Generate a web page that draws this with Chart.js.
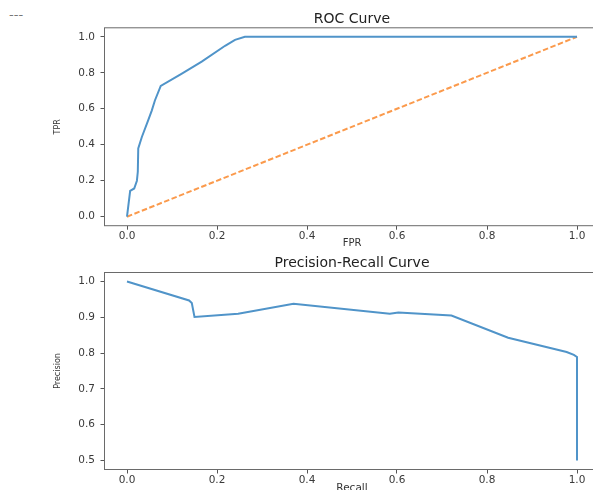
<!DOCTYPE html>
<html>
<head>
<meta charset="utf-8">
<script src="https://cdn.jsdelivr.net/npm/chart.js@4/dist/chart.umd.min.js"></script>
<style>
  html, body { margin: 0; padding: 0; background: #fff; overflow: hidden; width: 593px; height: 490px; }
  #dashes { position: absolute; left: 9px; top: 7px; font: 13px "DejaVu Sans", sans-serif; color: #777; }
  #rocBox { position: absolute; left: 0; top: 0; }
  #prBox { position: absolute; left: 0; top: 248px; }
</style>
</head>
<body>
<div id="dashes">---</div>
<div id="rocBox"><canvas id="rocChart" width="610" height="250"></canvas></div>
<div id="prBox"><canvas id="prChart" width="610" height="252"></canvas></div>
<script>
// ROC curve values
const rocFpr = [0, 0.007, 0.016, 0.022, 0.024, 0.025, 0.033, 0.047, 0.055, 0.062, 0.075, 0.121, 0.166, 0.218, 0.24, 0.262, 1.0];
const rocTpr = [0, 0.144, 0.157, 0.2, 0.25, 0.379, 0.443, 0.535, 0.59, 0.646, 0.727, 0.794, 0.862, 0.95, 0.983, 1.0, 1.0];
// chance diagonal
const chanceFpr = [0, 1];
const chanceTpr = [0, 1];
// precision-recall curve
const prRecall = [0, 0.138, 0.144, 0.15, 0.247, 0.37, 0.584, 0.603, 0.721, 0.847, 0.977, 0.993, 1.0, 1.0];
const prPrecision = [1.0, 0.947, 0.94, 0.901, 0.91, 0.938, 0.91, 0.913, 0.905, 0.843, 0.803, 0.795, 0.789, 0.5];
// tick labels
const rocXTicks = [0, 0.2, 0.4, 0.6, 0.8, 1.0];
const rocYTicks = [0, 0.2, 0.4, 0.6, 0.8, 1.0];
const prXTicks = [0, 0.2, 0.4, 0.6, 0.8, 1.0];
const prYTicks = [0.5, 0.6, 0.7, 0.8, 0.9, 1.0];

Chart.defaults.font.family = "'DejaVu Sans', sans-serif";
Chart.defaults.color = "#333";

const BLUE = "#5094c9";
const ORANGE = "#fb9a4c";

//matplotlib draws a box on all four sides of the axes
const framePlugin = {
  id: "frame",
  afterDraw(chart) {
    const { ctx, chartArea } = chart;
    ctx.save();
    ctx.strokeStyle = "#6a6a6a";
    ctx.lineWidth = 1;
    ctx.strokeRect(chartArea.left, chartArea.top, chartArea.right - chartArea.left, chartArea.bottom - chartArea.top);
    ctx.restore();
  },
};

function toPoints(xs, ys) {
  return xs.map((x, i) => ({ x: x, y: ys[i] }));
}

function makeAxis(opts) {
  return {
    type: "linear",
    min: opts.min,
    max: opts.max,
    border: { display: false },
    grid: { drawOnChartArea: false, drawTicks: true, tickLength: 4, color: "#555", tickWidth: 1 },
    ticks: {
      padding: opts.padding,
      font: { size: 10.5 },
      color: "#3a3a3a",
      callback: (v) => Number(v).toFixed(1),
    },
    afterBuildTicks: (scale) => {
      scale.ticks = opts.ticks.map((v) => ({ value: v }));
    },
    afterFit: opts.afterFit,
    title: opts.title,
  };
}

function makeChart(canvasId, cfg) {
  return new Chart(document.getElementById(canvasId), {
    type: "line",
    data: { datasets: cfg.datasets },
    options: {
      responsive: false,
      animation: false,
      layout: { padding: { left: 0, right: 10.5, top: 0, bottom: 0 } },
      elements: { point: { radius: 0 }, line: { tension: 0 } },
      plugins: {
        legend: { display: false },
        tooltip: { enabled: false },
        title: {
          display: true,
          fullSize: false, // center over the axes, like matplotlib
          text: cfg.title,
          color: "#222",
          font: { size: 14, weight: "normal" },
          padding: cfg.titlePadding,
        },
      },
      scales: {
        x: makeAxis({
          min: -0.05,
          max: 1.05,
          ticks: cfg.xTicks,
          padding: 0,
          afterFit: (s) => { s.height = cfg.xAxisHeight; },
          title: cfg.xTitle,
        }),
        y: makeAxis({
          min: cfg.yMin,
          max: cfg.yMax,
          ticks: cfg.yTicks,
          padding: 5.5,
          afterFit: (s) => { s.width = 104.5; },
          title: cfg.yTitle,
        }),
      },
    },
    plugins: [framePlugin],
  });
}

makeChart("rocChart", {
  title: "ROC Curve",
  titlePadding: { top: 11, bottom: 0 },
  xTicks: rocXTicks,
  yTicks: rocYTicks,
  yMin: -0.05,
  yMax: 1.05,
  xAxisHeight: 24.3,
  xTitle: { display: true, text: "FPR", color: "#333", font: { size: 10 }, padding: { top: 0, bottom: 1 } },
  yTitle: { display: true, text: "TPR", color: "#333", font: { size: 8 }, padding: { top: 53, bottom: 0 } },
  datasets: [
    {
      data: toPoints(rocFpr, rocTpr),
      borderColor: BLUE,
      borderWidth: 2,
      fill: false,
    },
    {
      data: toPoints(chanceFpr, chanceTpr),
      borderColor: ORANGE,
      borderWidth: 2,
      borderDash: [5.5, 2.5],
      fill: false,
    },
  ],
});

makeChart("prChart", {
  title: "Precision-Recall Curve",
  titlePadding: { top: 7.3, bottom: 0.4 },
  xTicks: prXTicks,
  yTicks: prYTicks,
  yMin: 0.475,
  yMax: 1.025,
  xAxisHeight: 30.5,
  xTitle: { display: true, text: "Recall", color: "#333", font: { size: 10.5 }, padding: { top: 0, bottom: 5 } },
  yTitle: { display: true, text: "Precision", color: "#333", font: { size: 8 }, padding: { top: 53, bottom: 0 } },
  datasets: [
    {
      data: toPoints(prRecall, prPrecision),
      borderColor: BLUE,
      borderWidth: 2,
      fill: false,
    },
  ],
});
</script>
</body>
</html>
